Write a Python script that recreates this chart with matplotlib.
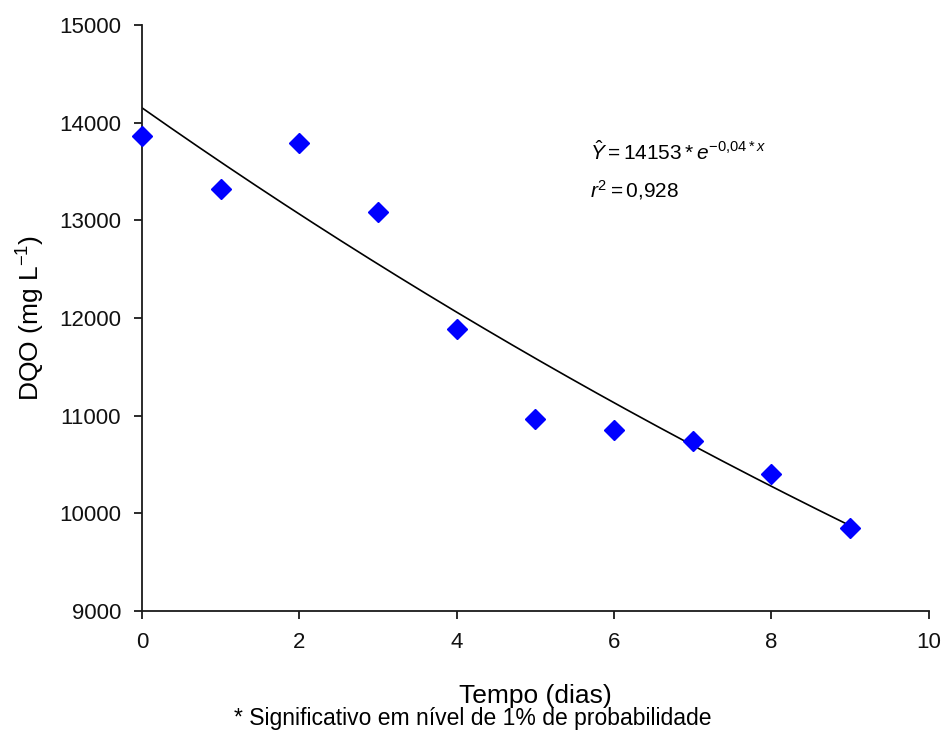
import numpy as np
import matplotlib
matplotlib.use("Agg")
import matplotlib.pyplot as plt

plt.rcParams['font.family'] = ['Liberation Sans', 'DejaVu Sans']
plt.rcParams['mathtext.fontset'] = 'custom'
plt.rcParams['mathtext.rm'] = 'Liberation Sans'
plt.rcParams['mathtext.it'] = 'Liberation Sans:italic'

# observed values
dias = [0, 1, 2, 3, 4, 5, 6, 7, 8, 9]
dqo = [13860, 13320, 13790, 13085, 11890, 10965, 10855, 10740, 10400, 9850]

# fitted model: Y = a * exp(b * x)
a_fit = 14153
b_fit = -0.04

fig = plt.figure(figsize=(9.42, 7.38), dpi=100)
ax = fig.add_axes([0.1507, 0.172, 0.8353, 0.794])

xs = np.linspace(0, 9, 200)
ax.plot(xs, a_fit * np.exp(b_fit * xs), color='black', lw=1.2)
ax.plot(dias, dqo, 'D', color='#0000ff', markersize=10.5, zorder=3, clip_on=False)

ax.set_xlim(0, 10)
ax.set_ylim(9000, 15000)
ax.set_xticks(range(0, 11, 2))
ax.set_yticks(range(9000, 15001, 1000))

for s in ['top', 'right']:
    ax.spines[s].set_visible(False)
for s in ['left', 'bottom']:
    ax.spines[s].set_linewidth(1.3)
    ax.spines[s].set_color('#1a1a1a')
ax.tick_params(direction='out', length=6, width=1.3, labelsize=16, pad=9,
               colors='#1a1a1a', labelcolor='#111111')

ax.set_xlabel('Tempo (dias)', fontsize=19, va='baseline')
ax.xaxis.set_label_coords(0.5, -0.157)
ax.set_ylabel(r'DQO (mg L$^{-1}$)', fontsize=19, va='center')
ax.yaxis.set_label_coords(-0.141, 0.5)

ax.text(5.7, 13618, r'$\hat{Y} = 14153 * e^{-0{,}04 * x}$', fontsize=15, va='baseline')
ax.text(5.7, 13239, r'$r^2 = 0{,}928$', fontsize=15, va='baseline')

fig.text(0.502, 0.0176, '* Significativo em nível de 1% de probabilidade',
         fontsize=16.5, ha='center', va='baseline')

fig.savefig('out.png', dpi=100)
